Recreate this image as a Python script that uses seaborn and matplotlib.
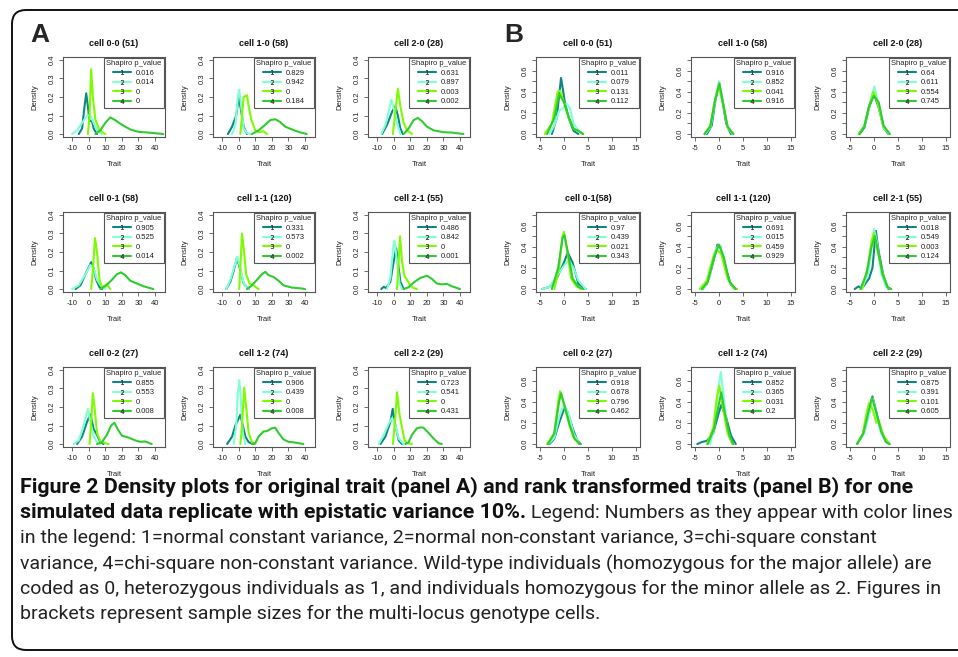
import numpy as np
import pandas as pd
import matplotlib
matplotlib.use("Agg")
import matplotlib.pyplot as plt
import seaborn as sns
from matplotlib.lines import Line2D
from matplotlib.patches import FancyBboxPatch
from matplotlib.transforms import IdentityTransform

sns.set_theme(style="ticks")
plt.rcParams["font.family"] = ["Liberation Sans", "DejaVu Sans"]

# ---------------- data ----------------
SERIES = ["1", "2", "3", "4"]
COLORS = ["#0e8686", "#7fffd4", "#7cfc00", "#2fcc2f"]

A_TITLES = ["cell 0-0 (51)", "cell 1-0 (58)", "cell 2-0 (28)",
            "cell 0-1 (58)", "cell 1-1 (120)", "cell 2-1 (55)",
            "cell 0-2 (27)", "cell 1-2 (74)", "cell 2-2 (29)"]
B_TITLES = ["cell 0-0 (51)", "cell 1-0 (58)", "cell 2-0 (28)",
            "cell 0-1(58)", "cell 1-1 (120)", "cell 2-1 (55)",
            "cell 0-2 (27)", "cell 1-2 (74)", "cell 2-2 (29)"]

A_PVALS = [["0.016", "0.014", "0", "0"], ["0.829", "0.942", "0", "0.184"],
           ["0.631", "0.897", "0.003", "0.002"], ["0.905", "0.525", "0", "0.014"],
           ["0.331", "0.573", "0", "0.002"], ["0.486", "0.842", "0", "0.001"],
           ["0.855", "0.553", "0", "0.008"], ["0.906", "0.439", "0", "0.008"],
           ["0.723", "0.541", "0", "0.431"]]
B_PVALS = [["0.011", "0.079", "0.131", "0.112"], ["0.916", "0.852", "0.041", "0.916"],
           ["0.64", "0.611", "0.554", "0.745"], ["0.97", "0.439", "0.021", "0.343"],
           ["0.691", "0.015", "0.459", "0.929"], ["0.018", "0.549", "0.003", "0.124"],
           ["0.918", "0.678", "0.796", "0.462"], ["0.852", "0.365", "0.031", "0.2"],
           ["0.875", "0.391", "0.101", "0.605"]]

# Panel A density curves (Trait, Density)
A00 = [[(-6, 0), (-4, 0.03), (-2.5, 0.15), (-1.5, 0.22), (-0.5, 0.15), (0.5, 0.07), (2, 0.07), (3, 0.03), (5, 0)],
       [(-10, 0), (-7, 0.02), (-4, 0.06), (-1, 0.1), (1, 0.1), (3, 0.06), (5, 0.02), (8, 0)],
       [(-0.5, 0), (0.5, 0.1), (1.5, 0.35), (2.5, 0.2), (4, 0.08), (6, 0.03), (8, 0.01), (10, 0)],
       [(4, 0), (7, 0.02), (10, 0.06), (13, 0.09), (16, 0.075), (20, 0.05), (25, 0.025), (30, 0.012), (36, 0.008), (45, 0)]]
A10 = [[(-6.5, 0), (-4, 0.04), (-1.5, 0.1), (0, 0.2), (1, 0.15), (3, 0.04), (5, 0)],
       [(-4, 0), (-2, 0.05), (-0.5, 0.2), (0.3, 0.24), (1.5, 0.15), (3, 0.03), (5, 0.005), (7, 0)],
       [(1, 0), (2, 0.1), (3, 0.2), (5, 0.21), (6, 0.15), (7.5, 0.08), (10, 0.02), (12, 0.01), (15, 0.015), (17, 0)],
       [(8, 0), (12, 0.02), (16, 0.05), (19, 0.075), (22, 0.08), (25, 0.065), (28, 0.04), (32, 0.025), (36, 0.012), (41, 0)]]
A20 = [[(-7, 0), (-4, 0.05), (-1, 0.12), (1, 0.15), (2.5, 0.1), (4, 0.03), (5.5, 0)],
       [(-7.5, 0), (-5, 0.05), (-3, 0.12), (-1.5, 0.185), (0, 0.14), (2, 0.06), (4, 0)],
       [(-0.5, 0), (1, 0.12), (2.5, 0.245), (4, 0.15), (6, 0.06), (8, 0.02), (11, 0)],
       [(6, 0), (9, 0.03), (12, 0.075), (14.5, 0.087), (17, 0.07), (20, 0.04), (24, 0.02), (30, 0.01), (35, 0.008), (42, 0)]]
A01 = [[(-8, 0), (-5, 0.02), (-2, 0.08), (1.5, 0.145), (3, 0.11), (4.5, 0.05), (6.5, 0.01), (8, 0)],
       [(-10, 0), (-6, 0.02), (-2, 0.08), (1, 0.13), (3, 0.11), (5, 0.05), (8, 0.01), (10, 0)],
       [(1.5, 0), (2.5, 0.1), (3.8, 0.275), (5, 0.2), (6.5, 0.05), (8, 0.01), (10, 0.02), (11, 0.025), (13, 0)],
       [(7, 0), (10, 0.015), (14, 0.05), (17, 0.08), (19.5, 0.09), (22, 0.075), (25, 0.045), (29, 0.03), (33, 0.015), (39, 0)]]
A11 = [[(-7.5, 0), (-5, 0.04), (-3, 0.1), (-1, 0.17), (1, 0.1), (3, 0.03), (6, 0)],
       [(-7.5, 0), (-5, 0.05), (-3, 0.11), (-0.8, 0.175), (1, 0.11), (3, 0.03), (6, 0)],
       [(0.3, 0), (1, 0.12), (2, 0.3), (3, 0.22), (4.5, 0.08), (6.5, 0.03), (9, 0.02), (11, 0.005), (12, 0)],
       [(5, 0), (8, 0.02), (11, 0.05), (14, 0.08), (16, 0.093), (18, 0.075), (21, 0.065), (24, 0.045), (27, 0.02), (32, 0.008), (38, 0.003), (40, 0)]]
A21 = [[(-7.5, 0), (-6, 0.012), (-4.5, 0.005), (-2, 0.04), (0, 0.15), (1.5, 0.22), (2.5, 0.15), (4, 0.04), (6, 0)],
       [(-4, 0), (-2, 0.06), (0, 0.25), (0.5, 0.26), (2, 0.15), (3.5, 0.03), (5, 0)],
       [(2, 0), (3, 0.15), (3.8, 0.285), (5, 0.15), (6.5, 0.07), (8, 0.05), (10, 0.02), (12, 0.005), (14, 0)],
       [(6, 0), (9, 0.01), (12, 0.035), (16, 0.06), (20, 0.072), (23, 0.055), (26, 0.03), (29, 0.025), (32, 0.028), (35, 0.015), (40, 0)]]
A02 = [[(-7, 0), (-4, 0.04), (-1, 0.12), (1, 0.16), (3, 0.08), (5, 0.05), (7, 0.01), (9, 0)],
       [(-9, 0), (-6, 0.02), (-3, 0.1), (-0.5, 0.19), (1, 0.12), (3, 0.04), (5, 0.01), (7, 0)],
       [(0.5, 0), (1.5, 0.12), (2.5, 0.275), (3.5, 0.2), (5, 0.06), (7, 0.015), (10, 0.005), (12, 0)],
       [(5, 0), (8, 0.01), (11, 0.05), (13.5, 0.1), (15.5, 0.115), (17.5, 0.08), (20, 0.045), (24, 0.035), (28, 0.02), (31, 0.012), (34, 0.014), (38, 0)]]
A12 = [[(-7, 0), (-4, 0.04), (-2, 0.1), (1, 0.158), (2.5, 0.1), (4, 0.04), (6, 0.01), (9, 0)],
       [(-3, 0), (-1.5, 0.1), (-0.5, 0.28), (0.4, 0.345), (1.2, 0.25), (2.5, 0.06), (4, 0)],
       [(1, 0), (2, 0.1), (3.3, 0.305), (4.5, 0.2), (6, 0.06), (8, 0.01), (10, 0)],
       [(8, 0), (10, 0.005), (12, 0.04), (15, 0.068), (17, 0.07), (20, 0.085), (22, 0.088), (24, 0.06), (27, 0.025), (30, 0.012), (34, 0.008), (39, 0)]]
A22 = [[(-8, 0), (-5, 0.04), (-2, 0.12), (-0.6, 0.19), (1, 0.1), (3, 0.02), (5, 0)],
       [(-9, 0), (-6, 0.05), (-3, 0.11), (-1, 0.14), (1, 0.1), (3, 0.03), (6, 0)],
       [(-0.5, 0), (1, 0.15), (2, 0.28), (3.5, 0.16), (5, 0.09), (6.5, 0.02), (8, 0.005), (11, 0)],
       [(7, 0), (9, 0.01), (11, 0.05), (14, 0.085), (16, 0.09), (18, 0.088), (21, 0.06), (24, 0.03), (27, 0.005), (29, 0)]]

# Panel B density curves (rank transformed)
B00 = [[(-2.5, 0), (-1.5, 0.15), (-0.6, 0.53), (0.2, 0.3), (1, 0.15), (2, 0.03), (3, 0)],
       [(-3, 0), (-2, 0.08), (-1, 0.22), (0, 0.25), (0.5, 0.29), (1.2, 0.25), (2, 0.1), (3, 0.03), (4, 0)],
       [(-4, 0), (-2.5, 0.1), (-1.3, 0.4), (-0.8, 0.41), (0, 0.3), (1, 0.15), (2, 0.05), (3, 0.03), (4, 0)],
       [(-3.5, 0), (-2, 0.15), (-1, 0.38), (0, 0.3), (1, 0.16), (2, 0.05), (3, 0.03), (4, 0)]]
B10 = [[(-2.5, 0), (-1.5, 0.08), (-0.8, 0.3), (0, 0.47), (0.8, 0.3), (1.5, 0.1), (2.5, 0)],
       [(-2.8, 0), (-1.7, 0.07), (-0.8, 0.32), (0, 0.5), (0.8, 0.32), (1.7, 0.08), (2.8, 0)],
       [(-3, 0), (-1.8, 0.08), (-0.9, 0.3), (-0.1, 0.45), (0.8, 0.3), (1.8, 0.06), (3, 0)],
       [(-3, 0), (-1.8, 0.07), (-0.8, 0.32), (0.1, 0.48), (0.9, 0.28), (1.8, 0.07), (3, 0)]]
B20 = [[(-3, 0), (-2, 0.06), (-1, 0.25), (0, 0.38), (1, 0.25), (2, 0.06), (3, 0)],
       [(-3.2, 0), (-2, 0.08), (-0.8, 0.3), (0.1, 0.45), (0.9, 0.28), (2, 0.06), (3.2, 0)],
       [(-3.2, 0), (-2, 0.07), (-1, 0.26), (-0.1, 0.4), (0.9, 0.28), (2, 0.07), (3.2, 0)],
       [(-3, 0), (-2, 0.07), (-1, 0.27), (0, 0.36), (1, 0.3), (2, 0.08), (3.3, 0)]]
B01 = [[(-4.5, 0), (-3, 0.02), (-1.5, 0.1), (0, 0.25), (0.8, 0.345), (1.8, 0.25), (3, 0.05), (4.5, 0)],
       [(-4.5, 0), (-3, 0.02), (-1.5, 0.12), (0, 0.22), (1, 0.27), (2, 0.2), (3, 0.08), (4.5, 0)],
       [(-2, 0), (-1, 0.2), (-0.3, 0.5), (0, 0.54), (0.7, 0.35), (1.5, 0.1), (2.5, 0.03), (3.5, 0)],
       [(-2.5, 0), (-1.2, 0.2), (-0.3, 0.48), (0.1, 0.51), (0.8, 0.35), (1.8, 0.1), (3, 0.02), (4, 0)]]
B11 = [[(-3.5, 0), (-2.5, 0.05), (-1.5, 0.2), (-0.3, 0.42), (0.3, 0.4), (1.5, 0.18), (2.5, 0.04), (3.5, 0)],
       [(-3.2, 0), (-2, 0.1), (-0.8, 0.36), (0, 0.42), (0.8, 0.34), (2, 0.08), (3.2, 0)],
       [(-4, 0), (-2.5, 0.08), (-1.2, 0.3), (-0.5, 0.37), (0.5, 0.33), (1.8, 0.1), (3, 0.01), (3.8, 0)],
       [(-3.5, 0), (-2.3, 0.07), (-1, 0.3), (0, 0.42), (1, 0.3), (2.2, 0.07), (3.5, 0)]]
B21 = [[(-4, 0), (-3.2, 0.025), (-2.5, 0.005), (-1, 0.1), (-0.3, 0.2), (0.4, 0.55), (1, 0.35), (2, 0.12), (3, 0)],
       [(-2.5, 0), (-1.2, 0.15), (-0.3, 0.45), (0, 0.57), (0.6, 0.45), (1.5, 0.15), (2.5, 0.02), (3.5, 0)],
       [(-2.5, 0), (-1.3, 0.2), (-0.5, 0.45), (0, 0.53), (0.8, 0.35), (1.8, 0.15), (2.8, 0.02), (3.5, 0)],
       [(-2.8, 0), (-1.5, 0.15), (-0.5, 0.4), (0.2, 0.5), (0.9, 0.35), (1.8, 0.14), (2.8, 0.02), (3.6, 0)]]
B02 = [[(-3, 0), (-2, 0.05), (-1, 0.2), (0, 0.33), (0.8, 0.3), (1.8, 0.15), (2.8, 0.03), (3.5, 0)],
       [(-3.2, 0), (-2, 0.06), (-1, 0.25), (0, 0.38), (1, 0.28), (2, 0.1), (3.2, 0)],
       [(-3.5, 0), (-2, 0.1), (-1.2, 0.4), (-0.8, 0.5), (0, 0.38), (1, 0.2), (2, 0.06), (3.2, 0)],
       [(-3.3, 0), (-2, 0.1), (-1, 0.4), (-0.6, 0.48), (0.2, 0.35), (1.2, 0.18), (2.2, 0.05), (3.3, 0)]]
B12 = [[(-4.5, 0), (-3.5, 0.02), (-2.5, 0.03), (-1.2, 0.1), (0, 0.3), (0.5, 0.37), (1.5, 0.25), (2.5, 0.08), (3.5, 0)],
       [(-1.8, 0), (-1, 0.15), (-0.2, 0.5), (0.4, 0.68), (1, 0.45), (1.8, 0.12), (2.8, 0)],
       [(-2.5, 0), (-1.2, 0.15), (-0.4, 0.45), (0.1, 0.55), (0.8, 0.35), (1.8, 0.1), (2.8, 0)],
       [(-2.3, 0), (-1, 0.15), (0, 0.38), (0.5, 0.49), (1.2, 0.3), (2.2, 0.08), (3, 0)]]
B22 = [[(-3.5, 0), (-2.2, 0.1), (-1, 0.3), (-0.3, 0.45), (0.5, 0.3), (1.5, 0.12), (2.5, 0.02), (3.2, 0)],
       [(-3.5, 0), (-2, 0.1), (-1, 0.28), (-0.2, 0.43), (0.6, 0.25), (1.5, 0.1), (2.5, 0.02), (3.2, 0)],
       [(-3.5, 0), (-2.3, 0.1), (-1.5, 0.3), (-1, 0.39), (-0.2, 0.32), (0.5, 0.2), (1, 0.22), (2, 0.08), (3.2, 0)],
       [(-3.5, 0), (-2.2, 0.1), (-1, 0.33), (-0.4, 0.44), (0.5, 0.3), (1.5, 0.12), (2.5, 0.02), (3.3, 0)]]

A_CURVES = [A00, A10, A20, A01, A11, A21, A02, A12, A22]
B_CURVES = [B00, B10, B20, B01, B11, B21, B02, B12, B22]

A_XTICKS = [-10, 0, 10, 20, 30, 40]
A_YTICKS = [0.0, 0.1, 0.2, 0.3, 0.4]
A_YLABELS = ["0.0", "0.1", "0.2", "0.3", "0.4"]
B_XTICKS = [-5, 0, 5, 10, 15]
B_YTICKS = [0.0, 0.1, 0.2, 0.3, 0.4, 0.5, 0.6, 0.7]
B_YLABELS = ["0.0", "", "0.2", "", "0.4", "", "0.6", ""]

CAPTION_BOLD_1 = "Figure 2 Density plots for original trait (panel A) and rank transformed traits (panel B) for one"
CAPTION_BOLD_2 = "simulated data replicate with epistatic variance 10%."
CAPTION_REG_2 = " Legend: Numbers as they appear with color lines"
CAPTION_LINES = [
    "in the legend: 1=normal constant variance, 2=normal non-constant variance, 3=chi-square constant",
    "variance, 4=chi-square non-constant variance. Wild-type individuals (homozygous for the major allele) are",
    "coded as 0, heterozygous individuals as 1, and individuals homozygous for the minor allele as 2. Figures in",
    "brackets represent sample sizes for the multi-locus genotype cells.",
]

# ---------------- figure ----------------
W, H = 958, 657
fig = plt.figure(figsize=(W / 100, H / 100), dpi=100)
fig.patch.set_facecolor("white")

def px_axes(left, top, width, height):
    return fig.add_axes([left / W, 1 - (top + height) / H, width / W, height / H])

A_LEFTS = [63, 213, 368]
B_LEFTS = [536, 691, 846]
TOPS = [57, 212, 367]
AX_W, AX_H = 102, 80

PAL = dict(zip(SERIES, COLORS))
EDGE = "#555555"
SMALL = 5.5

def draw_panel(ax, curves, pvals, title, xlim, ylim, xticks, yticks, ylabels):
    rows = []
    for s, pts in zip(SERIES, curves):
        for x, y in pts:
            rows.append({"Trait": x, "Density": y, "series": s})
    df = pd.DataFrame(rows)
    sns.lineplot(data=df, x="Trait", y="Density", hue="series", hue_order=SERIES,
                 palette=PAL, estimator=None, sort=True, legend=False,
                 linewidth=1.5, ax=ax)
    ax.set_xlim(*xlim)
    ax.set_ylim(*ylim)
    ax.set_xticks(xticks)
    ax.set_xticklabels([str(t) for t in xticks])
    ax.set_yticks(yticks)
    ax.set_yticklabels(ylabels, rotation=90, va="center")
    ax.tick_params(direction="out", length=3, width=0.6, color=EDGE,
                   labelsize=SMALL, labelcolor="#222222", pad=2.5)
    for sp in ax.spines.values():
        sp.set_visible(True)
        sp.set_color(EDGE)
        sp.set_linewidth(0.8)
    ax.set_xlabel("Trait", fontsize=SMALL, color="#222222", labelpad=7)
    ax.set_ylabel("Density", fontsize=SMALL, color="#222222", labelpad=7)
    ax.set_title(title, fontsize=6.5, fontweight="bold", color="#111111", pad=8)
    handles = [Line2D([], [], color=c, lw=1.5, marker=f"${s}$", markersize=3.4,
                      markeredgewidth=0.2, markerfacecolor="#333333",
                      markeredgecolor="#333333")
               for s, c in zip(SERIES, COLORS)]
    leg = ax.legend(handles, pvals, title="Shapiro p_value", loc="upper right",
                    fontsize=SMALL, title_fontsize=SMALL, frameon=True, fancybox=False,
                    edgecolor=EDGE, framealpha=1, borderpad=0.3, labelspacing=0.28,
                    handlelength=2.4, handletextpad=0.6, borderaxespad=0.15)
    leg.get_frame().set_linewidth(0.8)
    for t in leg.get_texts():
        t.set_color("#222222")

for i in range(9):
    r, c = divmod(i, 3)
    ax = px_axes(A_LEFTS[c], TOPS[r], AX_W, AX_H)
    draw_panel(ax, A_CURVES[i], A_PVALS[i], A_TITLES[i], (-15.5, 46), (-0.016, 0.416),
               A_XTICKS, A_YTICKS, A_YLABELS)
    ax = px_axes(B_LEFTS[c], TOPS[r], 104, AX_H)
    draw_panel(ax, B_CURVES[i], B_PVALS[i], B_TITLES[i], (-5.8, 15.8), (-0.028, 0.728),
               B_XTICKS, B_YTICKS, B_YLABELS)

# panel letters
fig.text(30 / W, 1 - 35 / H, "A", fontsize=19, fontweight="bold", va="center", ha="left",
         family=["Liberation Sans", "DejaVu Sans"])
fig.text(504 / W, 1 - 35 / H, "B", fontsize=19, fontweight="bold", va="center", ha="left",
         family=["Liberation Sans", "DejaVu Sans"])

# border
border = FancyBboxPatch((12, H - 650), 1000, 640, boxstyle="round,pad=0,rounding_size=14",
                        transform=IdentityTransform(), fill=False, edgecolor="#111111",
                        linewidth=1.4)
fig.patches.append(border)

# caption
CAP_FAMILY = ["Roboto", "DejaVu Sans"]
CAP_BOLD_SIZE = 15.4
CAP_REG_SIZE = 14.0
x0 = 20 / W
ys = [487, 513, 538, 564, 589, 614]
fig.text(x0, 1 - ys[0] / H, CAPTION_BOLD_1, fontsize=CAP_BOLD_SIZE, fontweight="bold",
         va="center", ha="left", family=CAP_FAMILY, color="#111111")
tb = fig.text(x0, 1 - ys[1] / H, CAPTION_BOLD_2, fontsize=CAP_BOLD_SIZE, fontweight="bold",
              va="center", ha="left", family=CAP_FAMILY, color="#111111")
fig.canvas.draw()
bb = tb.get_window_extent()
fig.text(bb.x1 / W, 1 - ys[1] / H, CAPTION_REG_2, fontsize=CAP_REG_SIZE, va="center", ha="left",
         family=CAP_FAMILY, color="#222222")
for line, y in zip(CAPTION_LINES, ys[2:]):
    fig.text(x0, 1 - y / H, line, fontsize=CAP_REG_SIZE, va="center", ha="left",
             family=CAP_FAMILY, color="#222222")

fig.savefig("out.png", dpi=100)
